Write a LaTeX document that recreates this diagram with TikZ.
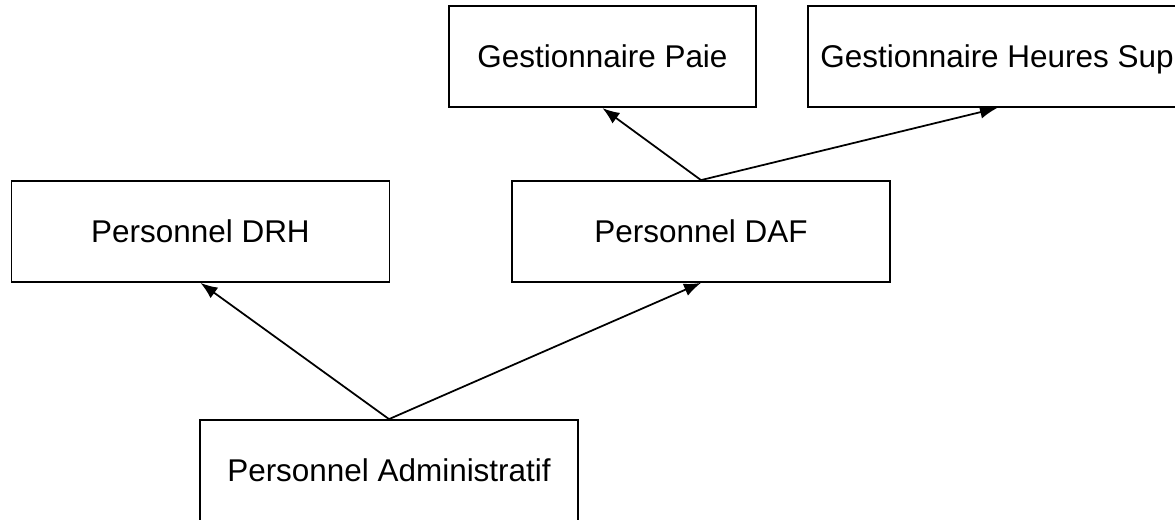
\documentclass[tikz,border=0pt]{standalone}
\usepackage{fontspec}
\setmainfont{Liberation Sans}
\usetikzlibrary{arrows.meta}

\begin{document}
\begin{tikzpicture}[x=1cm,y=1cm,
  rolebox/.style={draw=black,line width=1pt,fill=white,minimum width=7.56cm,minimum height=2.02cm,
    inner sep=0pt,text height=12.8pt,text depth=0pt,font=\fontsize{17.9}{21}\selectfont},
  inherit/.style={line width=1pt,-{Latex[length=0.34cm,width=0.26cm]}}]
\path[use as bounding box] (0,0) rectangle (23.50,10.40);
% roles, bottom to top
\node[rolebox] (admin) at (7.78,0.99) {Personnel Administratif};
\node[rolebox] (drh) at (4.01,5.77) {Personnel DRH};
\node[rolebox] (daf) at (14.02,5.77) {Personnel DAF};
\node[rolebox,minimum width=6.14cm] (paie) at (12.05,9.265) {Gestionnaire Paie};
\node[rolebox] (hsup) at (19.94,9.265) {Gestionnaire Heures Sup};
% inheritance links
\draw[inherit] (admin.north) -- (drh.south);
\draw[inherit] (admin.north) -- (daf.south);
\draw[inherit] (daf.north) -- (paie.south);
\draw[inherit] (daf.north) -- (hsup.south);
\end{tikzpicture}
\end{document}
